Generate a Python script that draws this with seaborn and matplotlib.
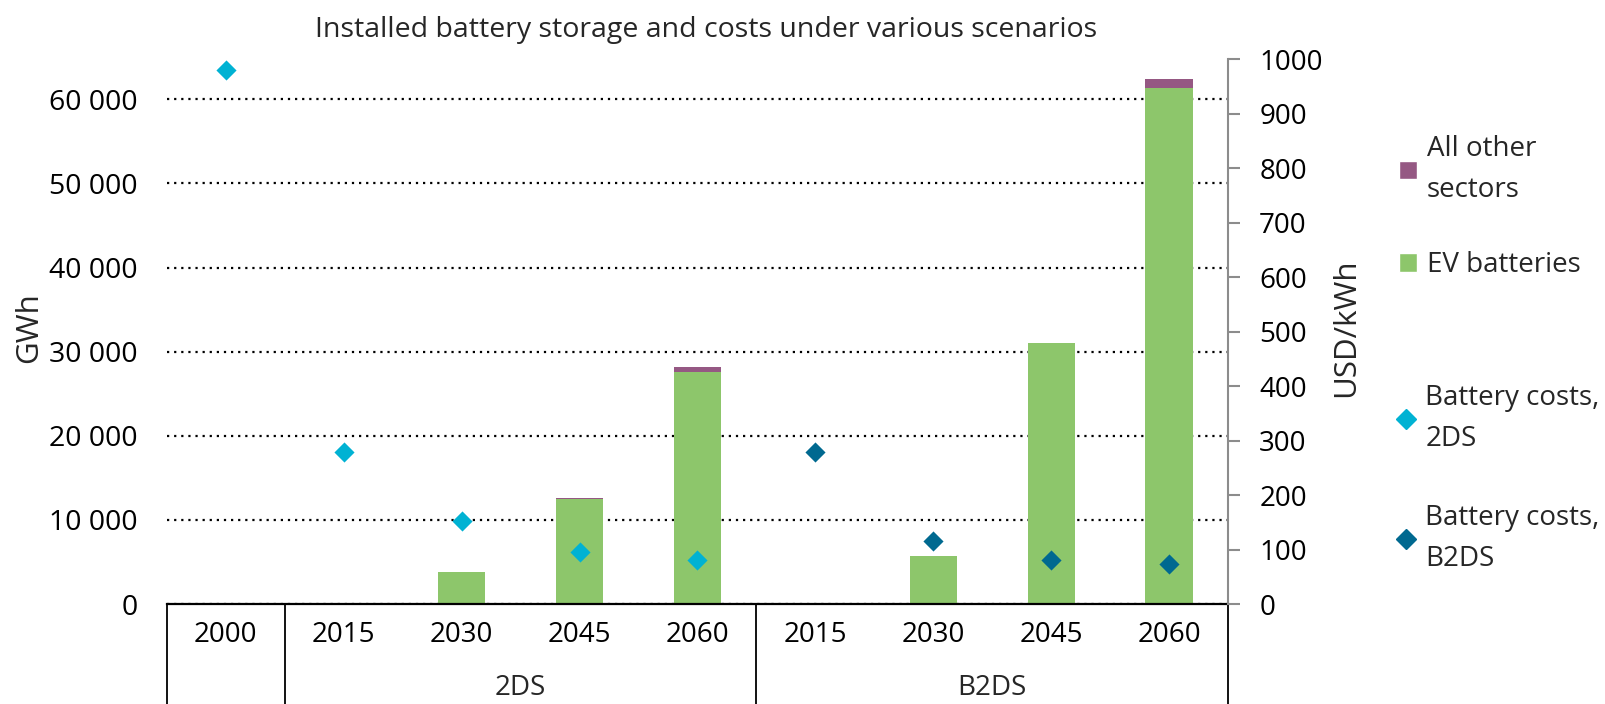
import numpy as np
import pandas as pd
import seaborn as sns
import matplotlib.pyplot as plt
import matplotlib.transforms as mtrans
from matplotlib.lines import Line2D
from matplotlib.patches import Patch
from matplotlib.ticker import FuncFormatter

# data
categories = ["2000", "2DS 2015", "2DS 2030", "2DS 2045", "2DS 2060",
              "B2DS 2015", "B2DS 2030", "B2DS 2045", "B2DS 2060"]
year_labels = ["2000", "2015", "2030", "2045", "2060", "2015", "2030", "2045", "2060"]
ev_batteries = [0, 100, 3800, 12500, 27600, 100, 5700, 31000, 61400]   # GWh
other_sectors = [0, 0, 20, 60, 600, 0, 20, 60, 1000]                    # GWh
cost_2ds_cats = ["2000", "2DS 2015", "2DS 2030", "2DS 2045", "2DS 2060"]
cost_2ds = [980, 280, 152, 96, 81]                                      # USD/kWh
cost_b2ds_cats = ["B2DS 2015", "B2DS 2030", "B2DS 2045", "B2DS 2060"]
cost_b2ds = [280, 116, 81, 73]                                          # USD/kWh
groups = ["2DS", "B2DS"]
group_cats = [["2DS 2015", "2DS 2060"], ["B2DS 2015", "B2DS 2060"]]

green = "#8DC66B"
purple = "#955883"
cyan = "#00B2D3"
navy = "#006990"
FS = 20

sns.set_theme(style="white")
plt.rcParams['font.family'] = ['Open Sans', 'DejaVu Sans']

df = pd.DataFrame({"cat": categories, "ev": ev_batteries, "other": other_sectors})
df["total"] = df["ev"] + df["other"]

fig = plt.figure(figsize=(16.05, 7.04), dpi=100)
ax = fig.add_axes([0.1040, 0.1420, 0.6611, 0.7736])
ax.set_axisbelow(True)

# stacked bars: total (purple) behind, EV (green) in front
sns.barplot(data=df, x="cat", y="total", order=categories, color=purple,
            width=0.4, saturation=1, linewidth=0, ax=ax)
sns.barplot(data=df, x="cat", y="ev", order=categories, color=green,
            width=0.4, saturation=1, linewidth=0, ax=ax)

ax.set_ylim(0, 64750)
ax.set_yticks(np.arange(0, 60001, 10000))
ax.yaxis.set_major_formatter(FuncFormatter(lambda v, p: f"{int(v):,}".replace(",", " ")))
ax.yaxis.grid(True, color="black", linestyle=(0, (1, 2.2)), linewidth=1.6)
ax.xaxis.grid(False)
ax.tick_params(axis="y", length=0, pad=21, labelsize=FS + 0.5, labelcolor="black")
ax.set_xticks(range(len(categories)))
ax.set_xticklabels(year_labels)
ax.tick_params(axis="x", length=0, pad=12, labelsize=FS, labelcolor="black")
ax.set_xlabel("")
ax.set_ylabel("")
for s in ["left", "top", "right"]:
    ax.spines[s].set_visible(False)
ax.spines["bottom"].set_color("black")
ax.spines["bottom"].set_linewidth(1.6)

# cost markers on secondary axis
ax2 = ax.twinx()
pos_2ds = [categories.index(c) for c in cost_2ds_cats]
pos_b2ds = [categories.index(c) for c in cost_b2ds_cats]
sns.scatterplot(x=pos_2ds, y=cost_2ds, marker="D", s=105, color=cyan,
                linewidth=0, ax=ax2, zorder=3, legend=False)
sns.scatterplot(x=pos_b2ds, y=cost_b2ds, marker="D", s=105, color=navy,
                linewidth=0, ax=ax2, zorder=3, legend=False)
ax2.set_ylim(0, 1000)
ax2.set_yticks(np.arange(0, 1001, 100))
ax2.grid(False)
ax2.tick_params(axis="y", direction="out", length=8.5, width=1.5, color="#8C8C8C",
                pad=14, labelsize=FS, labelcolor="black", right=True)
for s in ["left", "top", "bottom"]:
    ax2.spines[s].set_visible(False)
ax2.spines["right"].set_color("#8C8C8C")
ax2.spines["right"].set_linewidth(1.5)
ax2.set_ylabel("")
ax.set_xlim(-0.5, len(categories) - 0.5)

# category table below the axis
trans = mtrans.blended_transform_factory(ax.transData, ax.transAxes)
seps = [-0.5, 0.5] + [categories.index(g[1]) + 0.5 for g in group_cats]
for xs in seps:
    ax.plot([xs, xs], [0, -0.25], transform=trans, color="black", lw=1.3,
            clip_on=False)
for g, (a, b) in zip(groups, group_cats):
    xc = (categories.index(a) + categories.index(b)) / 2
    ax.text(xc, -0.154, g, transform=trans, ha="center", va="center", fontsize=FS)

fig.text(0.44, 0.958, "Installed battery storage and costs under various scenarios",
         ha="center", va="center", fontsize=FS + 0.5)
fig.text(29 / 1605, 0.534, "GWh", rotation=90, ha="center", va="center", fontsize=FS + 2.5)
fig.text(1346 / 1605, 0.534, "USD/kWh", rotation=90, ha="center", va="center", fontsize=FS + 2.5)

# legends
bar_handles = [Patch(facecolor=purple), Patch(facecolor=green)]
leg1 = fig.legend(bar_handles, ["All other\nsectors", "EV batteries"],
                  loc="upper left", bbox_to_anchor=(1399 / 1605, 0.808),
                  frameon=False, borderpad=0, borderaxespad=0, fontsize=FS,
                  handlelength=0.65, handleheight=0.65, handletextpad=0.35,
                  labelspacing=1.7)
mk_handles = [Line2D([], [], marker="D", linestyle="none", color=cyan, markersize=10),
              Line2D([], [], marker="D", linestyle="none", color=navy, markersize=10)]
leg2 = fig.legend(mk_handles, ["Battery costs,\n2DS", "Battery costs,\nB2DS"],
                  loc="upper left", bbox_to_anchor=(1396 / 1605, 0.4545),
                  frameon=False, borderpad=0, borderaxespad=0, fontsize=FS,
                  handlelength=0.7, handletextpad=0.35, labelspacing=1.85)
for lg in (leg1, leg2):
    for t in lg.get_texts():
        t.set_linespacing(1.6)

fig.savefig("out.png", dpi=100)
